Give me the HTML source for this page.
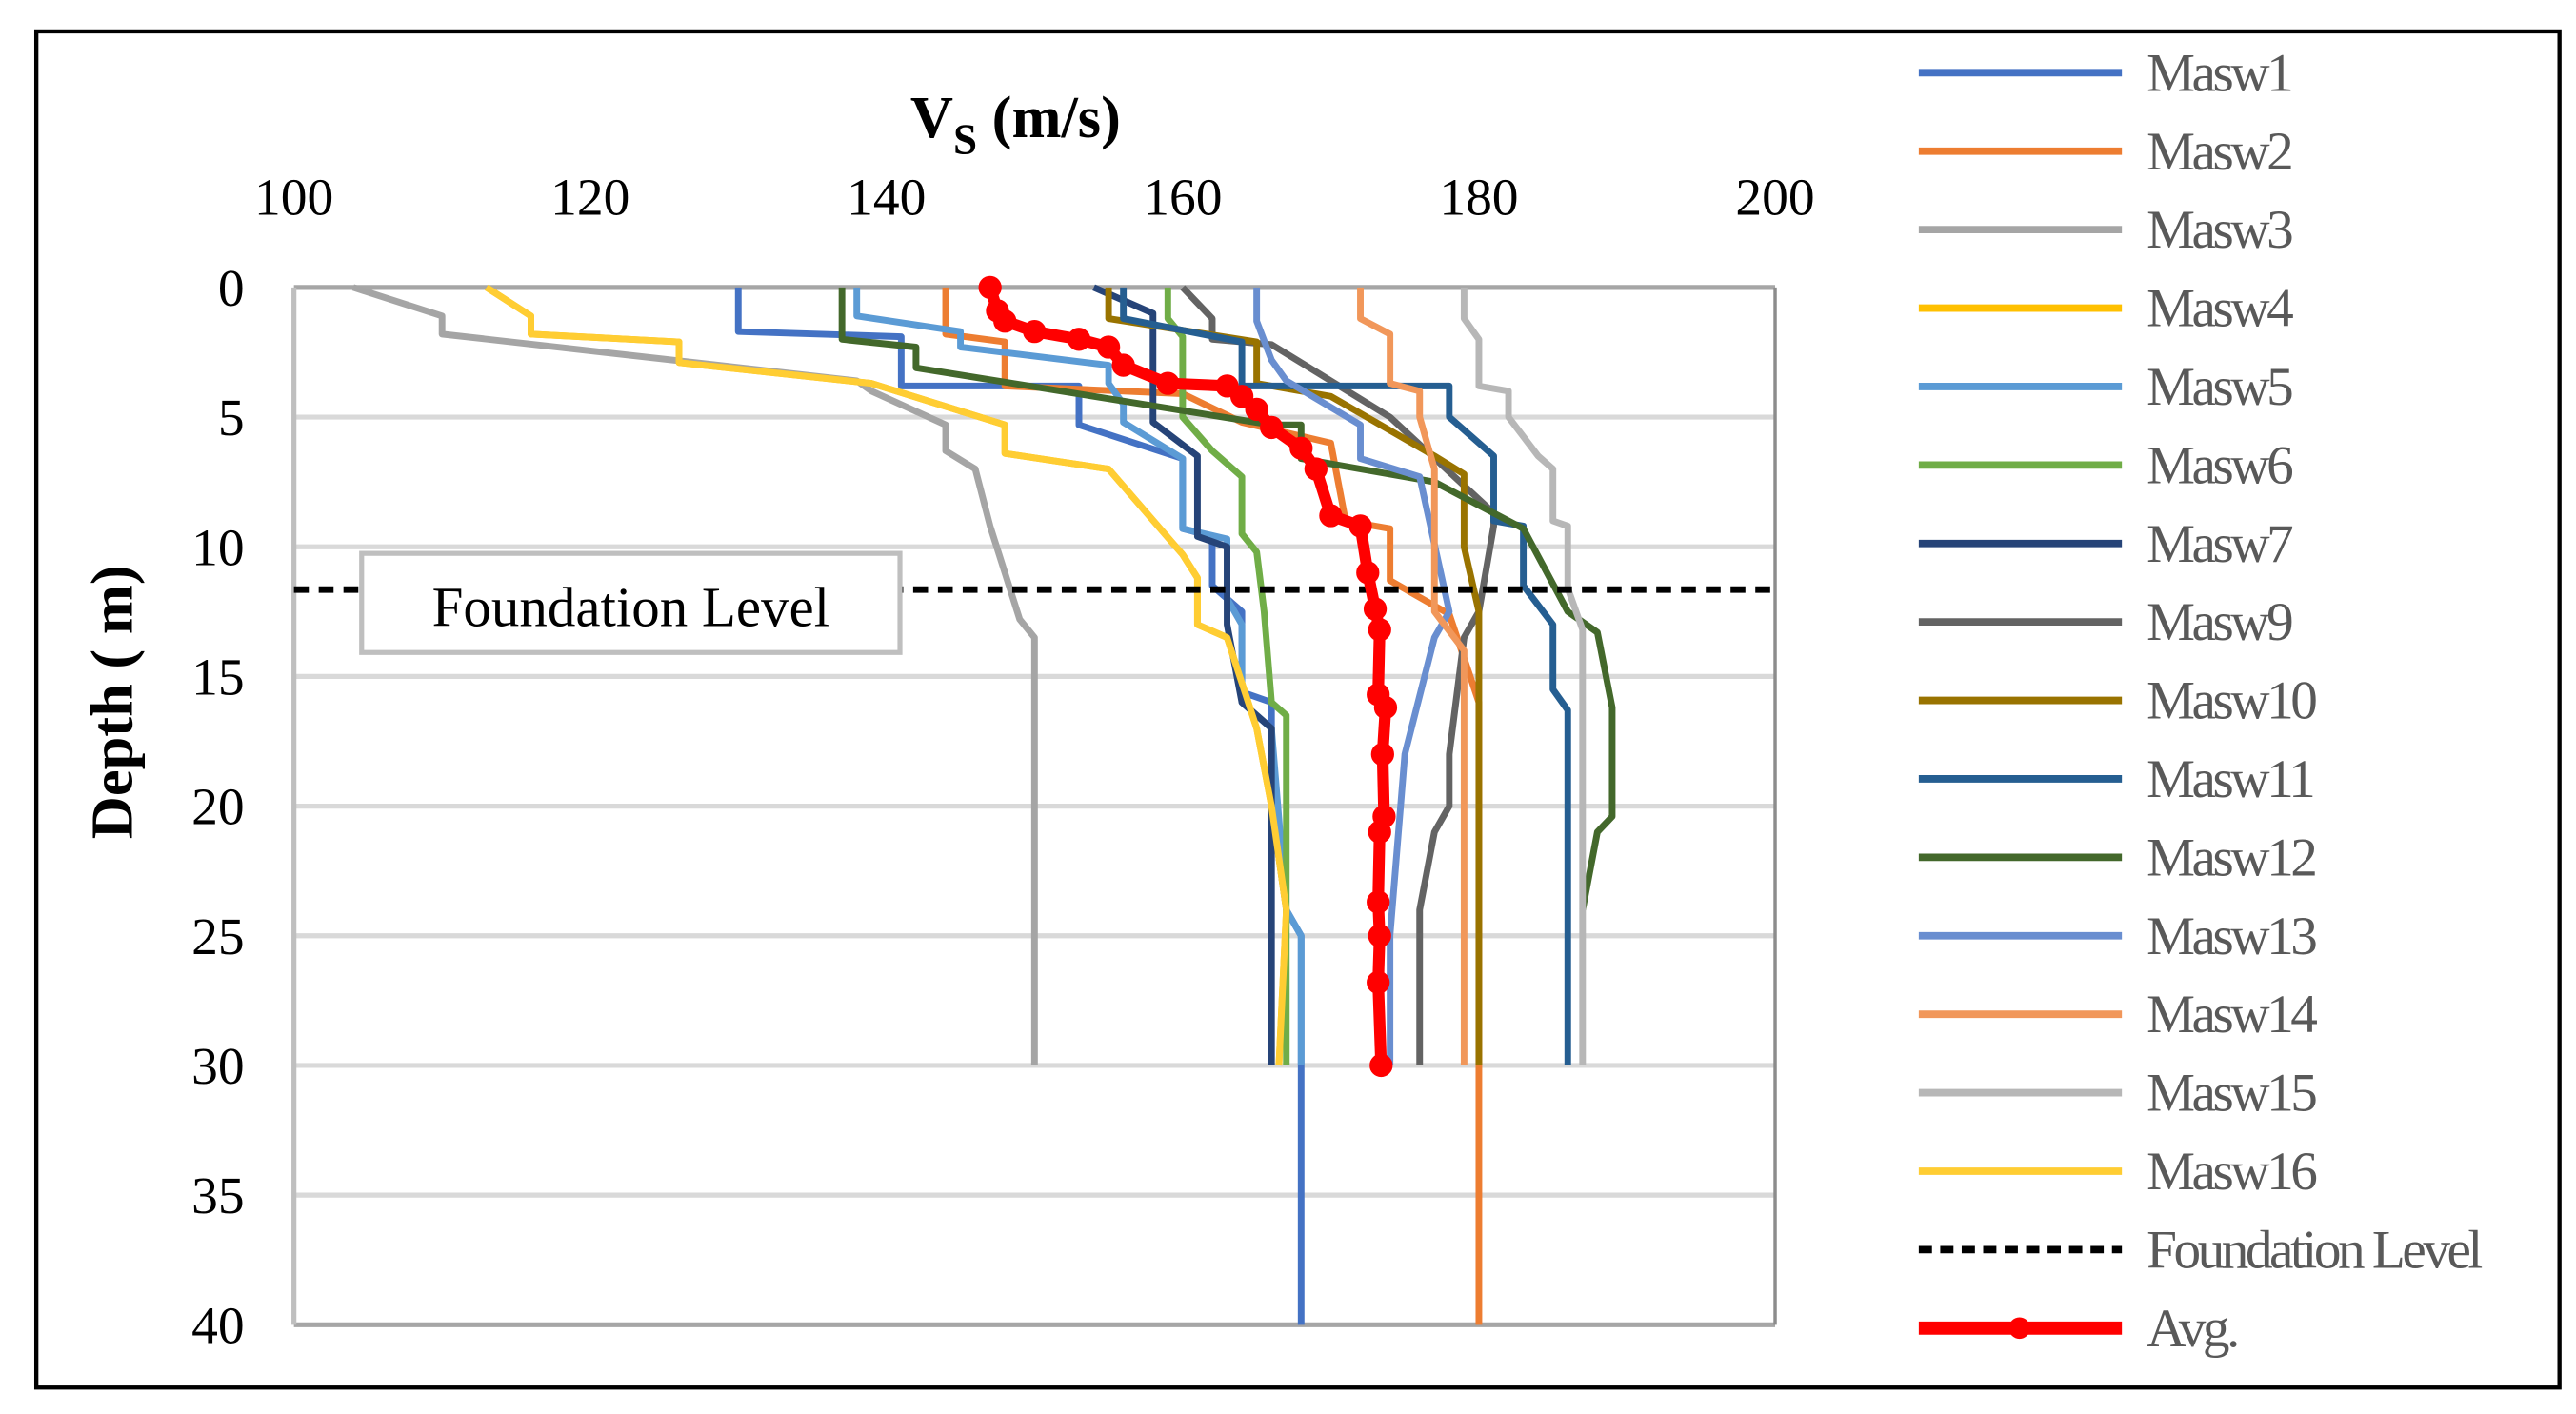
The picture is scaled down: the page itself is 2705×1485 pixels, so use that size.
<!DOCTYPE html>
<html><head><meta charset="utf-8"><style>
html,body{margin:0;padding:0;background:#fff}
svg{display:block}
text{font-family:"Liberation Serif",serif}
</style></head><body>
<svg id="chart" width="2705" height="1485" viewBox="0 0 1560 856" preserveAspectRatio="none" xmlns="http://www.w3.org/2000/svg">
<rect x="22" y="19" width="1528" height="821" fill="#fff" stroke="#000" stroke-width="2.5"/>
<g id="grid"></g>
<g id="series"></g>
<text x="615" y="83" text-anchor="middle" font-size="36" font-weight="bold">V<tspan font-size="26" dy="10">S</tspan><tspan dy="-10"> (m/s)</tspan></text>
<text transform="translate(80,425) rotate(-90)" text-anchor="middle" font-size="36" font-weight="bold">Depth ( m)</text>
<g id="foundation-label">
<rect x="219" y="335" width="326" height="60" fill="#fff" stroke="#bfbfbf" stroke-width="3"/>
<text x="382" y="379" text-anchor="middle" font-size="34">Foundation Level</text>
</g>
<g id="legend"></g>
</svg>
<script>
const xTicks=[100,120,140,160,180,200];
const yTicks=[0,5,10,15,20,25,30,35,40];
const foundationDepth=11.65;
const seriesNames=["Masw1","Masw2","Masw3","Masw4","Masw5","Masw6","Masw7","Masw9","Masw10","Masw11","Masw12","Masw13","Masw14","Masw15","Masw16"];
const seriesColors=["#4472c4","#ed7d31","#a5a5a5","#ffc000","#5b9bd5","#70ad47","#264478","#636363","#997300","#255e91","#43682b","#698ed0","#f1975a","#b7b7b7","#ffcd33"];
const masw1=[[130,0],[130,1.7],[141,1.9],[141,3.8],[153,3.8],[153,5.3],[160,6.6],[160,9.3],[162,9.6],[162,11.5],[164,12.5],[164,15.6],[166,16],[166,20],[167,24],[168,25],[168,40]];
const masw2=[[144,0],[144,1.8],[148,2.1],[148,3.8],[160,4.1],[164,5.2],[170,6],[171,9],[174,9.3],[174,11.3],[178,12.6],[180,16],[180,40]];
const masw3=[[104,0],[110,1.1],[110,1.8],[138,3.6],[139,4],[144,5.3],[144,6.3],[146,7],[147,9.2],[148,11],[149,12.8],[150,13.5],[150,30]];
const masw4=[[113,0],[116,1.1],[116,1.8],[126,2.1],[126,2.9],[139,3.7],[148,5.3],[148,6.4],[155,7],[160,10.3],[161,11.2],[161,13],[163,13.5],[165,17],[166,20],[167,24],[166.5,30]];
const masw5=[[138,0],[138,1.1],[145,1.7],[145,2.3],[155,3],[155,3.7],[156,4.5],[156,5.2],[160,6.6],[160,9.3],[163,9.7],[163,12],[164,13],[164,16],[166,17],[167,24],[168,25],[168,30]];
const masw6=[[159,0],[159,1.2],[160,1.9],[160,5],[162,6.3],[164,7.3],[164,9.5],[165,10.2],[165.5,12.5],[166,16],[167,16.5],[167,30]];
const masw7=[[154,0],[158,1],[158,3.8],[158,5.2],[161,6.5],[161,9.6],[163,10],[163,13],[164,16],[166,17],[166,30]];
const masw9=[[160,0],[162,1.2],[162,2],[166,2.2],[170,3.6],[174,5],[181,8.7],[181,9.2],[180,12.5],[179,13.5],[178,18],[178,20],[177,21],[176,24],[176,30]];
const masw10=[[155,0],[155,1.2],[165,2.1],[165,3.7],[170,4.2],[177,6.5],[179,7.2],[179,10],[180,12.5],[180,30]];
const masw11=[[156,0],[156,1.2],[164,2.1],[164,3.8],[178,3.8],[178,5],[181,6.5],[181,9],[183,9.2],[183,11.5],[185,13],[185,15.5],[186,16.3],[186,30]];
const masw12=[[137,0],[137,2],[142,2.3],[142,3.1],[166,5.3],[168,5.3],[168,6.6],[177,7.5],[183,9.3],[186,12.5],[188,13.3],[189,16.2],[189,20.4],[188,21],[187,24]];
const masw13=[[165,0],[165,1.3],[166,2.8],[167,3.6],[172,5.3],[172,6.6],[176,7.3],[178,12.5],[177,13.5],[175,18],[174,25],[174,30]];
const masw14=[[172,0],[172,1.2],[174,1.8],[174,3.7],[176,4],[176,5],[177,7],[177,12.5],[179,14],[179,30]];
const masw15=[[179,0],[179,1.2],[180,2],[180,3.8],[182,4],[182,5],[184,6.5],[185,7],[185,9],[186,9.2],[186,11.6],[187,13.2],[187,30]];
const masw16=[[113,0],[116,1.1],[116,1.8],[126,2.1],[126,2.9],[139,3.7],[148,5.3],[148,6.4],[155,7],[160,10.3],[161,11.2],[161,13],[163,13.5],[165,17],[166,20],[167,24],[166.5,30]];
const avgVs=[147,147.5,148,150,153,155,156,159,163,164,165,166,168,169,170,172,172.5,173,173.3,173.2,173.7,173.5,173.6,173.3,173.2,173.3,173.2,173.4];
const avgDepth=[0,0.9,1.3,1.7,2,2.3,3,3.7,3.8,4.2,4.7,5.4,6.2,7,8.8,9.2,11,12.4,13.2,15.7,16.2,18,20.4,21,23.7,25,26.8,30];
const allSeries=[masw1,masw2,masw3,masw4,masw5,masw6,masw7,masw9,masw10,masw11,masw12,masw13,masw14,masw15,masw16];

const X0=178,X1=1075,Y0=174,Y1=802;
function xs(v){return X0+(v-100)/(200-100)*(X1-X0);}
function ys(d){return Y0+d/40*(Y1-Y0);}
const NS="http://www.w3.org/2000/svg";
function mk(tag,attrs,parent){const e=document.createElementNS(NS,tag);for(const k in attrs)e.setAttribute(k,attrs[k]);parent.appendChild(e);return e;}
const grid=document.getElementById('grid');
yTicks.forEach(t=>{
  const l=mk('line',{x1:X0,x2:X1,y1:ys(t),y2:ys(t),stroke:(t===0||t===40)?'#a6a6a6':'#d9d9d9','stroke-width':3},grid);
  
  
  const tx=mk('text',{x:148,y:ys(t)+11,'text-anchor':'end','font-size':32},grid);
  tx.textContent=t;
  
  
});
const la=mk('line',{x1:X0,x2:X0,y1:Y0,y2:Y1,stroke:'#bfbfbf','stroke-width':3},grid);


const ra=mk('line',{x1:X1,x2:X1,y1:Y0,y2:Y1,stroke:'#8c8c8c','stroke-width':2},grid);


xTicks.forEach(t=>{
  const tx=mk('text',{x:xs(t),y:130,'text-anchor':'middle','font-size':32},grid);
  tx.textContent=t;
  
  
});
const sg=document.getElementById('series');
allSeries.forEach((s,i)=>{
  const p=mk('polyline',{points:s.map(q=>xs(q[0])+','+ys(q[1])).join(' '),fill:'none',stroke:seriesColors[i],'stroke-width':4,'stroke-linejoin':'round'},sg);
  
  
});
const fl=mk('line',{x1:X0,x2:X1,y1:ys(foundationDepth),y2:ys(foundationDepth),stroke:'#000','stroke-width':4,'stroke-dasharray':'9 6'},sg);


const ap=mk('polyline',{points:avgVs.map((v,i)=>xs(v)+','+ys(avgDepth[i])).join(' '),fill:'none',stroke:'#ff0000','stroke-width':7,'stroke-linejoin':'round'},sg);


avgVs.forEach((v,i)=>{
  const c=mk('circle',{cx:xs(v),cy:ys(avgDepth[i]),r:6,fill:'#ff0000',stroke:'#ff0000','stroke-width':2},sg);
  
  
});
const lbl=document.getElementById('foundation-label');lbl.parentNode.appendChild(lbl);
const lg=document.getElementById('legend');
const names=seriesNames.concat(['Foundation Level','Avg.']);
names.forEach((n,i)=>{
  const y=44+i*47.5;
  let l;
  if(i<15){l=mk('line',{x1:1162,x2:1285,y1:y,y2:y,stroke:seriesColors[i],'stroke-width':4.5},lg);}
  else if(i===15){l=mk('line',{x1:1162,x2:1285,y1:y,y2:y,stroke:'#000','stroke-width':4.5,'stroke-dasharray':'8 5'},lg);}
  else{l=mk('line',{x1:1162,x2:1285,y1:y,y2:y,stroke:'#ff0000','stroke-width':8},lg);
    const c=mk('circle',{cx:1223,cy:y,r:6.5,fill:'#ff0000'},lg);
    
    }
  
  
  const t=mk('text',{x:1300,y:y+11,'font-size':33,'letter-spacing':'-2','fill':'#595959'},lg);
  t.textContent=n;
  
  
});
</script>
</body></html>
